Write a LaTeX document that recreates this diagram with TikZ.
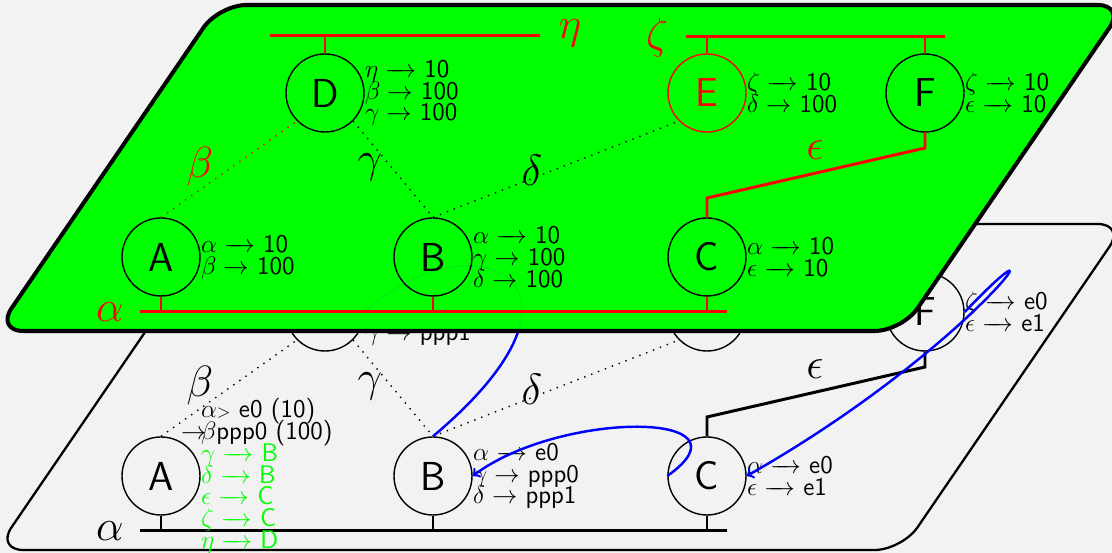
\documentclass[tikz,border=0pt]{standalone}
\usepackage{amsmath}
\usepackage{amssymb}
\usetikzlibrary{positioning}

\newcommand{\mto}{\mathrel{\relbar\mkern-10mu\rightarrow}}
\newcommand{\tightrows}{\lineskiplimit=-100pt\relax}

\begin{document}
\begin{tikzpicture}[
    router/.style={circle, draw, thick, minimum size=1.56cm, inner sep=0pt, font=\sffamily\fontsize{23}{27}\selectfont},
    rtable/.style={inner sep=0pt, align=left, font=\sffamily\fontsize{14.5}{12.4}\selectfont\tightrows},
    bus/.style={line width=1.7pt},
    link/.style={line width=0.8pt, dash pattern=on 0.8pt off 3.4pt},
    lbl/.style={inner sep=0pt, font=\fontsize{24}{28}\selectfont},
    plane/.style={rounded corners=0.55cm},
    route/.style={->, draw=blue, line width=1.4pt}
]

\useasboundingbox (0,0) rectangle (22.24,11.06);
\fill[black!5] (0,0) rectangle (22.24,11.06);
\clip (0,0) rectangle (22.24,11.06);

% lower layer
\begin{scope}[yshift=-4.38cm]
\draw[plane, line width=1.3pt, fill=black!5] (-0.08,4.44) -- (18.04,4.44) -- (22.5,10.96) -- (4.38,10.96) -- cycle;

\node[router] (A0) at (3.22,5.92) {A};
\node[router] (B0) at (8.66,5.92) {B};
\node[router] (C0) at (14.14,5.92) {C};
\node[router] (D0) at (6.5,9.2) {D};
\node[router] (E0) at (14.14,9.2) {E};
\node[router] (F0) at (18.5,9.2) {F};

\coordinate (al0) at (2.8,4.82);
\coordinate (ar0) at (14.54,4.82);
\coordinate (eu0) at (18.5,8.1);
\coordinate (ed0) at (14.14,7.1);

\draw[bus] (al0) -- (ar0);
\foreach \n in {A0,B0,C0}
    \draw[bus] (\n) -- (\n |- al0);
\draw[bus] (F0) -- (eu0) -- (ed0) -- (C0);

\draw[link] (A0.north) -- (D0.south west);
\draw[link] (D0.south east) -- (B0.north);
\draw[link] (B0.north) -- (E0.south west);

\node[lbl] (la0) at (2.2,4.82) {$\alpha$};
\node[lbl] (lb0) at (4.0,7.72) {$\beta$};
\node[lbl] (lg0) at (7.4,7.72) {$\gamma$};
\node[lbl] (ld0) at (10.64,7.66) {$\delta$};
\node[lbl] (le0) at (16.3,8.06) {$\epsilon$};

\node[rtable, right=0pt of A0] (tA0) {$\alpha{\scriptstyle>}$ e0 (10)\\\llap{$\rightarrow$\kern-3pt}$\beta$ppp0 (100)\\\textcolor{green}{$\gamma\mto$ B}\\\textcolor{green}{$\delta\mto$ B}\\\textcolor{green}{$\epsilon\mto$ C}\\\textcolor{green}{$\zeta\mto$ C}\\\textcolor{green}{$\eta\mto$ D}};
\node[rtable, right=0pt of B0] (tB0) {$\alpha\mto$ e0\\$\gamma\rightarrow$ ppp0\\$\delta\rightarrow$ ppp1};
\node[rtable, right=0pt of C0] (tC0) {$\alpha\mto$ e0\\$\epsilon\mto$ e1};
\node[rtable, right=0pt of F0] (tF0) {$\zeta\mto$ e0\\$\epsilon\mto$ e1};
\node[rtable, right=0pt of D0, yshift=-0.44cm] (tD0) {$\gamma\rightarrow$ ppp1};

\draw[route] (B0.north) .. controls +(3.74,3.14) and +(2.12,1.94) .. (D0.east);
\draw[route] (C0.west) .. controls +(1.84,1.3) and +(1.76,1.32) .. (B0.east);
\draw[route] (F0.east) .. controls +(2.2,2.3) and +(4.58,2.6) .. (C0.east);
\end{scope}

% upper layer
\draw[plane, line width=2.3pt, fill=green] (-0.08,4.44) -- (18.04,4.44) -- (22.5,10.96) -- (4.38,10.96) -- cycle;
\draw[route, draw opacity=0.07, line width=0.8pt] (B0.north) .. controls +(3.74,3.14) and +(2.12,1.94) .. (D0.east);

\node[router] (A1) at (3.22,5.92) {A};
\node[router] (B1) at (8.66,5.92) {B};
\node[router] (C1) at (14.14,5.92) {C};
\node[router] (D1) at (6.5,9.2) {D};
\node[router, draw=red, text=red] (E1) at (14.14,9.2) {E};
\node[router] (F1) at (18.5,9.2) {F};

\coordinate (al1) at (2.8,4.82);
\coordinate (ar1) at (14.54,4.82);
\coordinate (hl1) at (5.4,10.34);
\coordinate (hr1) at (10.8,10.34);
\coordinate (zl1) at (13.72,10.32);
\coordinate (zr1) at (18.9,10.32);
\coordinate (eu1) at (18.5,8.1);
\coordinate (ed1) at (14.14,7.1);

\draw[bus, red] (al1) -- (ar1);
\foreach \n in {A1,B1,C1}
    \draw[bus, red] (\n) -- (\n |- al1);
\draw[bus, red] (hl1) -- (hr1);
\draw[bus, red] (D1) -- (D1 |- hl1);
\draw[bus, red] (zl1) -- (zr1);
\draw[bus, red] (E1) -- (E1 |- zl1);
\draw[bus, red] (F1) -- (F1 |- zl1);
\draw[bus, red] (F1) -- (eu1) -- (ed1) -- (C1);

\draw[link, red] (A1.north) -- (D1.south west);
\draw[link] (D1.south east) -- (B1.north);
\draw[link] (B1.north) -- (E1.south west);

\node[lbl, red] (la1) at (2.2,4.82) {$\alpha$};
\node[lbl, red] (lh1) at (11.4,10.4) {$\eta$};
\node[lbl, red] (lz1) at (13.14,10.3) {$\zeta$};
\node[lbl, red] (lb1) at (4.0,7.72) {$\beta$};
\node[lbl] (lg1) at (7.4,7.72) {$\gamma$};
\node[lbl] (ld1) at (10.64,7.66) {$\delta$};
\node[lbl, red] (le1) at (16.3,8.06) {$\epsilon$};

\node[rtable, right=0pt of A1] (tA1) {$\alpha\mto$ 10\\$\beta\rightarrow$ 100};
\node[rtable, right=0pt of B1] (tB1) {$\alpha\mto$ 10\\$\gamma\rightarrow$ 100\\$\delta\rightarrow$ 100};
\node[rtable, right=0pt of C1] (tC1) {$\alpha\mto$ 10\\$\epsilon\mto$ 10};
\node[rtable, right=0pt of D1] (tD1) {$\eta\mto$ 10\\$\beta\rightarrow$ 100\\$\gamma\rightarrow$ 100};
\node[rtable, right=0pt of E1] (tE1) {$\zeta\mto$ 10\\$\delta\rightarrow$ 100};
\node[rtable, right=0pt of F1] (tF1) {$\zeta\mto$ 10\\$\epsilon\mto$ 10};

\end{tikzpicture}
\end{document}
